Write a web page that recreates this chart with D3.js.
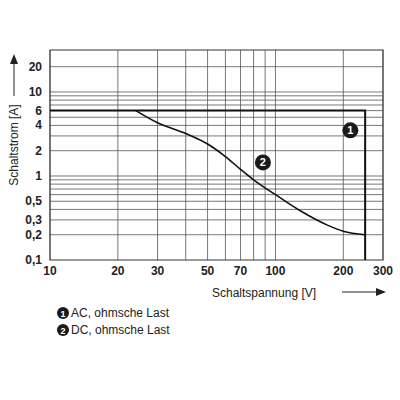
<!DOCTYPE html>
<html><head><meta charset="utf-8">
<script src="https://cdn.jsdelivr.net/npm/d3@7"></script>
<style>body{margin:0;background:#fff}text{font-family:Arial,"Liberation Sans",sans-serif}</style>
</head><body><div id="vis"></div>
<script>
var xTicks = [10, 20, 30, 50, 70, 100, 200, 300],
	xGrid = [10, 20, 30, 40, 50, 60, 70, 80, 90, 100, 200, 300],
	yTicks = [0.1, 0.2, 0.3, 0.5, 1, 2, 4, 6, 10, 20],
	yLabels = ["0,1", "0,2", "0,3", "0,5", "1", "2", "4", "6", "10", "20"],
	yGrid = [0.2, 0.3, 0.4, 0.5, 0.6, 0.7, 0.8, 0.9, 1, 2, 3, 4, 5, 6, 7, 8, 9, 10, 20],
	acX = [10, 250, 250],
	acY = [6, 6, 0.1],
	dcX = [24, 30, 40, 50, 60, 70, 80, 100, 130, 170, 200, 250],
	dcY = [6, 4.3, 3.2, 2.4, 1.7, 1.2, 0.9, 0.6, 0.38, 0.26, 0.22, 0.2],
	legend = ["AC, ohmsche Last", "DC, ohmsche Last"];

var svg = d3.select('#vis').append('svg').attr('width', 400).attr('height', 400);
var x = d3.scaleLog().domain([10, 300]).range([50, 383]);
var y = d3.scaleLog().domain([0.1, 31.6]).range([260, 50]);

var g = svg.append('g');
g.selectAll('.vg').data(xGrid).enter().append('line')
	.attr('x1', d => x(d)).attr('x2', d => x(d)).attr('y1', 50).attr('y2', 260)
	.attr('stroke', '#555').attr('stroke-width', 0.8);
g.selectAll('.hg').data(yGrid).enter().append('line')
	.attr('y1', d => y(d)).attr('y2', d => y(d)).attr('x1', 50).attr('x2', 383)
	.attr('stroke', '#555').attr('stroke-width', 0.8);
g.append('rect').attr('x', 50).attr('y', 50).attr('width', 333).attr('height', 210)
	.attr('fill', 'none').attr('stroke', '#333').attr('stroke-width', 1);

g.selectAll('.xt').data(xTicks).enter().append('text')
	.attr('x', d => x(d)).attr('y', 275).attr('text-anchor', 'middle')
	.attr('font-size', 12).attr('font-weight', 'bold').attr('fill', '#222').text(d => d);
g.selectAll('.yt').data(yTicks).enter().append('text')
	.attr('x', 42).attr('y', d => y(d) + 4).attr('text-anchor', 'end')
	.attr('font-size', 12).attr('font-weight', 'bold').attr('fill', '#222')
	.text((d, i) => yLabels[i]);

var line = d3.line().x(d => x(d[0])).y(d => y(d[1]));
g.append('path').datum(d3.zip(acX, acY)).attr('d', line)
	.attr('fill', 'none').attr('stroke', '#111').attr('stroke-width', 2);
g.append('path').datum(d3.zip(dcX, dcY)).attr('d', line.curve(d3.curveMonotoneX))
	.attr('fill', 'none').attr('stroke', '#111').attr('stroke-width', 1.6);

function badge(cx, cy, n) {
	svg.append('circle').attr('cx', cx).attr('cy', cy).attr('r', 8).attr('fill', '#1a1a1a');
	svg.append('text').attr('x', cx).attr('y', cy + 4).attr('text-anchor', 'middle')
		.attr('font-size', 11).attr('font-weight', 'bold').attr('fill', '#fff').text(n);
}
badge(x(215), y(3.5), 1);
badge(x(88), y(1.45), 2);

// axis titles
svg.append('text').attr('transform', 'translate(18,145) rotate(-90)')
	.attr('text-anchor', 'middle').attr('font-size', 12).attr('fill', '#222').text('Schaltstrom [A]');
svg.append('line').attr('x1', 14).attr('x2', 14).attr('y1', 96).attr('y2', 62).attr('stroke', '#222');
svg.append('path').attr('d', 'M10,64 L14,54 L18,64 Z').attr('fill', '#222');
svg.append('text').attr('x', 212).attr('y', 297)
	.attr('font-size', 12).attr('fill', '#222').text('Schaltspannung [V]');
svg.append('line').attr('x1', 342).attr('x2', 378).attr('y1', 292).attr('y2', 292).attr('stroke', '#222');
svg.append('path').attr('d', 'M376,288 L386,292 L376,296 Z').attr('fill', '#222');

legend.forEach(function (t, i) {
	var yy = 313 + i * 17;
	svg.append('circle').attr('cx', 63).attr('cy', yy).attr('r', 6).attr('fill', '#1a1a1a');
	svg.append('text').attr('x', 63).attr('y', yy + 3.5).attr('text-anchor', 'middle')
		.attr('font-size', 9).attr('font-weight', 'bold').attr('fill', '#fff').text(i + 1);
	svg.append('text').attr('x', 71).attr('y', yy + 4).attr('font-size', 12).attr('fill', '#222').text(t);
});
</script></body></html>
